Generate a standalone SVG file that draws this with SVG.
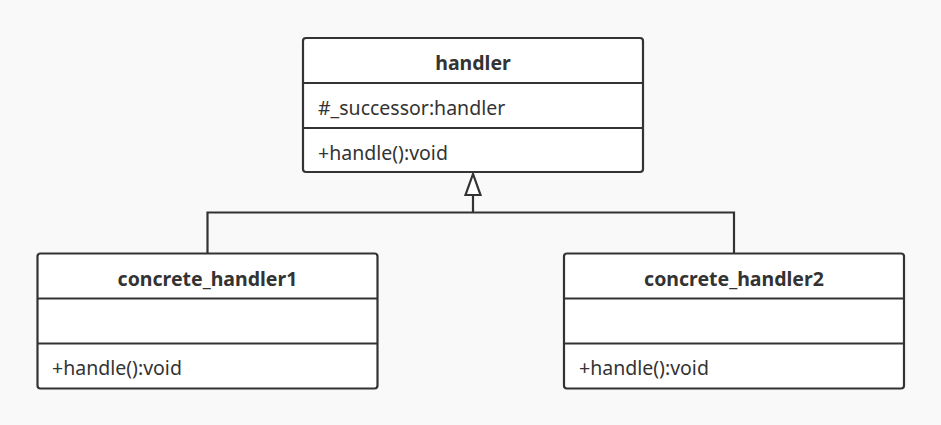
<svg xmlns="http://www.w3.org/2000/svg" width="941" height="425" viewBox="0 0 941 425">
<style>
.box{fill:#fff;stroke:#333;stroke-width:2.2}
.ln{fill:none;stroke:#333;stroke-width:2.2}
.t{font-family:"Noto Sans","Open Sans",sans-serif;font-size:19.5px;fill:#333}
.b{font-weight:bold;text-anchor:middle}
</style>
<rect width="941" height="425" fill="#f9f9f9"/>
<g id="connectors">
<path class="ln" d="M207.5 253 V212.5 H734 V253 M473 212.5 V195"/>
<polygon points="473,174 465.5,195 480.5,195" fill="#fff" stroke="#333" stroke-width="2.2"/>
</g>
<g id="handler">
<rect class="box" x="303" y="38" width="340" height="134" rx="3"/>
<path class="ln" d="M303 83 H643 M303 128 H643"/>
<text class="t b" x="473" y="70">handler</text>
<text class="t" x="318" y="115">#_successor:handler</text>
<text class="t" x="318" y="160">+handle():void</text>
</g>
<g id="concrete_handler1">
<rect class="box" x="37.5" y="253.5" width="340" height="135" rx="3"/>
<path class="ln" d="M37.5 298.5 H377.5 M37.5 343.5 H377.5"/>
<text class="t b" x="207.5" y="286">concrete_handler1</text>
<text class="t" x="52" y="375">+handle():void</text>
</g>
<g id="concrete_handler2">
<rect class="box" x="564" y="253.5" width="340" height="135" rx="3"/>
<path class="ln" d="M564 298.5 H904 M564 343.5 H904"/>
<text class="t b" x="734" y="286">concrete_handler2</text>
<text class="t" x="579" y="375">+handle():void</text>
</g>
</svg>
